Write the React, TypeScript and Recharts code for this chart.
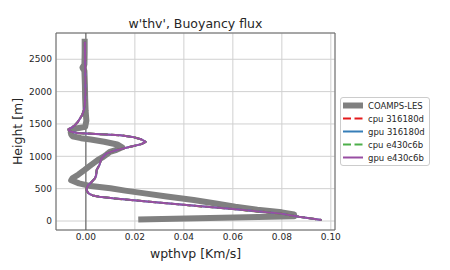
import { ScatterChart, Scatter, XAxis, YAxis, CartesianGrid, ReferenceLine, ReferenceArea, Label } from 'recharts';

// COAMPS-LES reference profile
const lesHeights = [2770, 2600, 2420, 2370, 2320, 2100, 1900, 1700, 1550, 1455, 1430, 1400, 1370, 1340, 1310, 1280, 1260, 1225, 1183, 1140, 1100, 1069, 1030, 992, 940, 890, 840, 790, 720, 660, 630, 582, 540, 505, 470, 427, 380, 324, 270, 221, 175, 134, 103, 75, 25];
const lesValues = [-0.0005, -0.0005, -0.0006, -0.0014, -0.0006, -0.0004, -0.0003, -0.0001, 0.0002, -0.0003, -0.004, -0.006, -0.0062, -0.006, -0.0055, -0.002, 0.002, 0.0075, 0.0128, 0.0148, 0.0125, 0.0098, 0.0085, 0.0071, 0.0048, 0.003, 0.0012, -0.0005, -0.003, -0.0055, -0.006, -0.0028, 0.002, 0.01, 0.016, 0.024, 0.033, 0.044, 0.053, 0.061, 0.07, 0.08, 0.085, 0.085, 0.0226];

// model runs (all four overlap)
const modelHeights = [2770, 2400, 2000, 1800, 1713, 1640, 1585, 1530, 1480, 1440, 1420, 1400, 1378, 1360, 1345, 1325, 1300, 1260, 1224, 1188, 1155, 1122, 1088, 1045, 967, 900, 864, 787, 710, 659, 600, 555, 510, 478, 440, 415, 395, 375, 350, 298, 247, 185, 118, 66, 15];
const cpu316180d = [-0.0004, -0.0003, -0.0002, -0.0004, -0.0008, -0.0015, -0.0024, -0.0033, -0.0045, -0.006, -0.0071, -0.007, -0.006, -0.0035, 0.004, 0.014, 0.019, 0.0228, 0.0244, 0.0227, 0.019, 0.0152, 0.0118, 0.0084, 0.0064, 0.0058, 0.0055, 0.0044, 0.0042, 0.0037, 0.0022, 0.001, 0.0004, 0.0003, 0.0008, 0.0016, 0.0028, 0.0055, 0.011, 0.026, 0.041, 0.06, 0.079, 0.087, 0.0962];
const gpu316180d = cpu316180d;
const cpuE430c6b = cpu316180d;
const gpuE430c6b = cpu316180d;

const seriesNames = ['COAMPS-LES', 'cpu 316180d', 'gpu 316180d', 'cpu e430c6b', 'gpu e430c6b'];
const seriesHeights = [lesHeights, modelHeights, modelHeights, modelHeights, modelHeights];
const seriesValues = [lesValues, cpu316180d, gpu316180d, cpuE430c6b, gpuE430c6b];

const xTicks = [0, 0.02, 0.04, 0.06, 0.08, 0.1];
const yTicks = [0, 500, 1000, 1500, 2000, 2500];

const styles = [
    { color: '#808080', width: 6, dash: undefined, cap: 'square' },
    { color: '#e41a1c', width: 2, dash: '8 3.5', cap: 'butt' },
    { color: '#377eb8', width: 2, dash: undefined, cap: 'butt' },
    { color: '#4daf4a', width: 2, dash: '8 3.5', cap: 'butt' },
    { color: '#984ea3', width: 2, dash: undefined, cap: 'butt' },
];

const xDomain = [-0.0122, 0.1017];
const yDomain = [-139, 2906];
const font = '"DejaVu Sans", sans-serif';
const textColor = '#262626';

const App = () => {
    const series = seriesNames.map((name, i) => ({
        name,
        data: seriesHeights[i].map((h, j) => ({ x: seriesValues[i][j], y: h })),
    }));

    return (
        <div style={{ position: 'absolute', left: 0, top: 0, width: 450, height: 270, background: '#fff', fontFamily: font }}>
            <div style={{ position: 'absolute', left: 56, width: 279, top: 16, textAlign: 'center', fontSize: 12.5, color: textColor }}>
                w'thv', Buoyancy flux
            </div>
            <ScatterChart width={450} height={270} margin={{ top: 33, right: 115, bottom: 0, left: 0 }}>
                <CartesianGrid stroke="#d0d0d0" strokeWidth={1} />
                <XAxis
                    type="number"
                    dataKey="x"
                    domain={xDomain}
                    ticks={xTicks}
                    allowDataOverflow
                    height={40}
                    tickLine={false}
                    tickSize={2}
                    tickMargin={2}
                    axisLine={false}
                    tickFormatter={(v: number) => v.toFixed(2)}
                    tick={{ fill: textColor, fontSize: 9, fontFamily: font }}
                >
                    <Label
                        content={({ viewBox }: any) => (
                            <text x={viewBox.x + viewBox.width / 2} y={viewBox.y + 28} textAnchor="middle" fontSize={12.5} fill={textColor} fontFamily={font}>
                                wpthvp [Km/s]
                            </text>
                        )}
                    />
                </XAxis>
                <YAxis
                    type="number"
                    dataKey="y"
                    domain={yDomain}
                    ticks={yTicks}
                    allowDataOverflow
                    width={56}
                    tickLine={false}
                    tickSize={2}
                    tickMargin={2}
                    axisLine={false}
                    tick={{ fill: textColor, fontSize: 9, fontFamily: font }}
                >
                    <Label
                        content={({ viewBox }: any) => {
                            const cx = 17;
                            const cy = viewBox.y + viewBox.height / 2;
                            return (
                                <text x={cx} y={cy} transform={`rotate(-90 ${cx} ${cy})`} textAnchor="middle" dominantBaseline="central" fontSize={12.5} fill={textColor} fontFamily={font}>
                                    Height [m]
                                </text>
                            );
                        }}
                    />
                </YAxis>
                <ReferenceLine x={0} stroke="#555555" strokeWidth={1} />
                {series.map((s, i) => (
                    <Scatter
                        key={s.name}
                        name={s.name}
                        data={s.data}
                        fill={styles[i].color}
                        shape={() => <g />}
                        line={{ stroke: styles[i].color, strokeWidth: styles[i].width, strokeDasharray: styles[i].dash, strokeLinejoin: 'round', strokeLinecap: styles[i].cap }}
                        lineJointType="linear"
                        isAnimationActive={false}
                    />
                ))}
                <ReferenceArea x1={xDomain[0]} x2={xDomain[1]} y1={yDomain[0]} y2={yDomain[1]} fill="none" stroke="#666666" strokeWidth={1} />
            </ScatterChart>
            <div
                style={{
                    position: 'absolute',
                    left: 340,
                    top: 97,
                    width: 88,
                    padding: '1px 0',
                    border: '1px solid #cccccc',
                    borderRadius: 3,
                    background: 'rgba(255,255,255,0.8)',
                    fontSize: 8.5,
                    color: textColor,
                }}
            >
                {seriesNames.map((name, i) => (
                    <div key={name} style={{ height: 13, display: 'flex', alignItems: 'center' }}>
                        <svg width={20} height={13} style={{ marginLeft: 2, marginRight: 5 }}>
                            <line x1={0} y1={6.5} x2={20} y2={6.5} stroke={styles[i].color} strokeWidth={styles[i].width} strokeDasharray={styles[i].dash} />
                        </svg>
                        <span>{name}</span>
                    </div>
                ))}
            </div>
        </div>
    );
};

export default App;
